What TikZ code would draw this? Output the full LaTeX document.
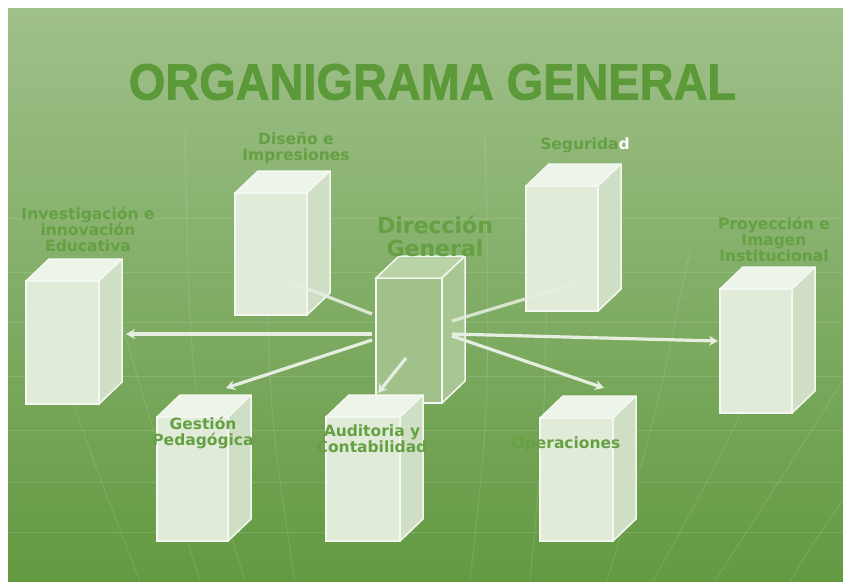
\documentclass[tikz,border=0pt]{standalone}
\usepackage{fontspec}
\setmainfont{DejaVu Sans}
\newfontfamily\titlefont[BoldFeatures={FakeBold=1.6}]{Liberation Sans}
\usetikzlibrary{arrows.meta}
\definecolor{bgtop}{HTML}{9FC08A}
\definecolor{bgmid}{HTML}{88B16E}
\definecolor{bgbot}{HTML}{639A42}
\definecolor{titlec}{HTML}{5C9939}
\definecolor{labelc}{HTML}{65A042}
\definecolor{boxline}{HTML}{F4F8F1}
\definecolor{boxfront}{HTML}{E1EBDA}
\definecolor{boxtop}{HTML}{EDF4E9}
\definecolor{boxside}{HTML}{CFDFC5}
\definecolor{dirfront}{HTML}{A0C189}
\definecolor{dirtop}{HTML}{BAD3A6}
\definecolor{dirside}{HTML}{A8C692}
\definecolor{arrowc}{HTML}{E6EEE1}
\tikzset{
  gridline/.style={white, opacity=0.12, line width=0.9pt},
  frontface/.style={draw=boxline, line width=1.5pt, fill=boxfront, outer sep=0pt, inner sep=0pt, anchor=north west},
  topface/.style={draw=boxline, line width=1.5pt, fill=boxtop, line join=round},
  sideface/.style={draw=boxline, line width=1.5pt, fill=boxside, line join=round},
  dirfrontface/.style={frontface, fill=dirfront},
  lab/.style={text=labelc, align=center, font=\bfseries\fontsize{15.5}{16}\selectfont, inner sep=0pt},
  conn/.style={draw=arrowc, line width=3.2pt, -{Stealth[length=9pt,width=10pt]}},
}
\newcommand\cubefaces[3]{%
  \draw[#2] (#1.north west) -- ([shift={(23,-22)}]#1.north west) -- ([shift={(23,-22)}]#1.north east) -- (#1.north east) -- cycle;
  \draw[#3] (#1.north east) -- ([shift={(23,-22)}]#1.north east) -- ([shift={(23,-22)}]#1.south east) -- (#1.south east) -- cycle;
}
\begin{document}
\begin{tikzpicture}[x=1pt,y=-1pt]
\useasboundingbox (0,0) rectangle (843,581);
\fill[white] (0,0) rectangle (843,581);
\shade[top color=bgtop, middle color=bgmid, bottom color=bgbot] (8,8) rectangle (843,581);
% faint grid
\foreach \yy in {218,272,322,376,430,482,532}
  \draw[gridline] (8,\yy) -- (843,\yy);
\draw[gridline] (40,300) .. controls (85,440) .. (140,581);
\draw[gridline] (100,250) .. controls (150,420) .. (200,581);
\draw[gridline] (185,130) .. controls (190,400) .. (245,581);
\draw[gridline] (265,200) .. controls (270,420) .. (295,581);
\draw[gridline] (485,130) .. controls (490,400) .. (470,581);
\draw[gridline] (548,200) .. controls (545,420) .. (530,581);
\draw[gridline] (690,250) .. controls (655,420) .. (607,581);
\draw[gridline] (790,300) .. controls (725,450) .. (653,581);
\draw[gridline] (843,380) .. controls (780,480) .. (715,581);
\draw[gridline] (843,500) .. controls (815,540) .. (790,581);
% title
\node[text=titlec, font=\titlefont\bfseries\fontsize{51}{51}\selectfont, inner sep=0pt] (title) at (432.5,82) {\scalebox{0.92}[1]{ORGANIGRAMA GENERAL}};
% upper boxes
\node[frontface, minimum width=73pt, minimum height=123pt] (inv) at (26,281) {};
\cubefaces{inv}{topface}{sideface}
\node[frontface, minimum width=72pt, minimum height=122pt] (dis) at (235,193) {};
\cubefaces{dis}{topface}{sideface}
\node[frontface, minimum width=72pt, minimum height=125pt] (seg) at (526,186) {};
\cubefaces{seg}{topface}{sideface}
\node[frontface, minimum width=72pt, minimum height=124pt] (pro) at (720,289) {};
\cubefaces{pro}{topface}{sideface}
% central box
\node[dirfrontface, minimum width=66pt, minimum height=125pt] (dir) at (376,278) {};
\cubefaces{dir}{topface, fill=dirtop}{sideface, fill=dirside}
% arrows
\coordinate (s-dis) at (372,314); \coordinate (e-dis) at (285,280);
\coordinate (s-inv) at (372,334); \coordinate (e-inv) at (126,334);
\coordinate (s-ges) at (372,340); \coordinate (e-ges) at (226,388);
\coordinate (s-aud) at (406,358); \coordinate (e-aud) at (378,393);
\coordinate (s-seg) at (452,321); \coordinate (e-seg) at (578,283);
\coordinate (s-pro) at (452,334); \coordinate (e-pro) at (718,341);
\coordinate (s-ope) at (452,336); \coordinate (e-ope) at (604,388);
\draw[conn, opacity=0.9] (s-dis) -- (e-dis);
\draw[conn] (s-inv) -- (e-inv);
\draw[conn] (s-ges) -- (e-ges);
\draw[conn] (s-aud) -- (e-aud);
\draw[conn, opacity=0.85] (s-seg) -- (e-seg);
\draw[conn] (s-pro) -- (e-pro);
\draw[conn] (s-ope) -- (e-ope);
% lower boxes
\node[frontface, minimum width=71pt, minimum height=124pt] (ges) at (157,417) {};
\cubefaces{ges}{topface}{sideface}
\node[frontface, minimum width=74pt, minimum height=124pt] (aud) at (326,417) {};
\cubefaces{aud}{topface}{sideface}
\node[frontface, minimum width=73pt, minimum height=123pt] (ope) at (540,418) {};
\cubefaces{ope}{topface}{sideface}
% labels
\node[lab] (l-inv) at (88,229) {Investigación e\\innovación\\Educativa};
\node[lab] (l-dis) at (296,148.5) {Diseño e\\Impresiones};
\node[lab] (l-seg) at (585,145) {Segurida\textcolor{white}{d}};
\node[lab] (l-pro) at (774,239) {Proyección e\\Imagen\\Institucional};
\node[lab, font=\bfseries\fontsize{22}{23}\selectfont] (l-dir) at (435,236) {Dirección\\General};
\node[lab] (l-ges) at (203,433) {Gestión\\Pedagógica};
\node[lab] (l-aud) at (372,439) {Auditoria y\\Contabilidad};
\node[lab] (l-ope) at (566,444) {Operaciones};
\end{tikzpicture}
\end{document}
